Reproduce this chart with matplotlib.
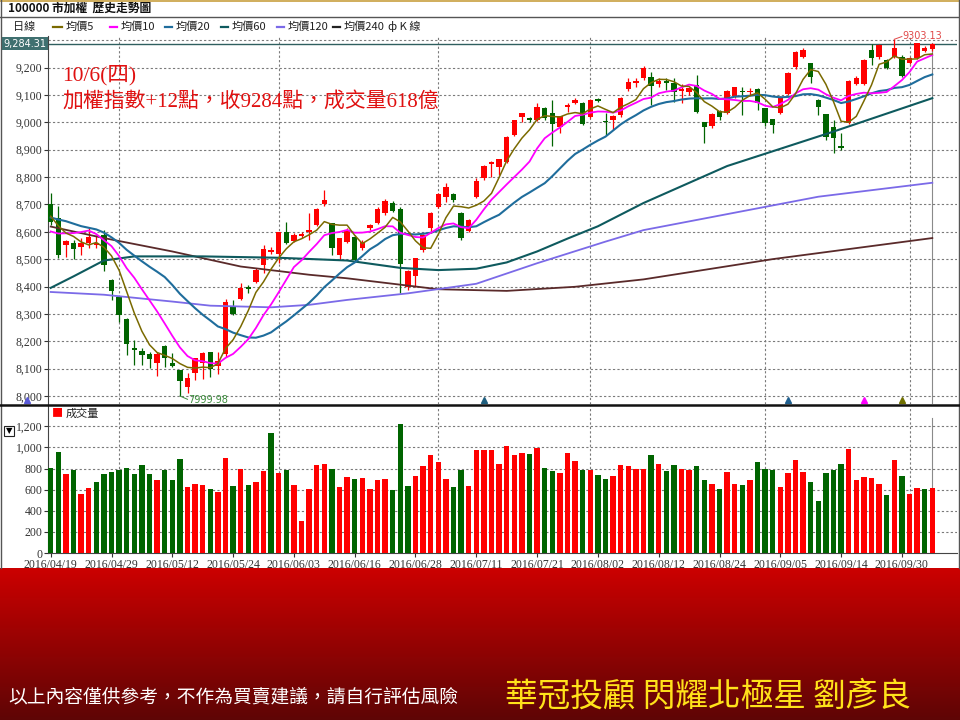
import numpy as np
import pandas as pd
import matplotlib
matplotlib.use("Agg")
import matplotlib.pyplot as plt
from matplotlib.lines import Line2D
from matplotlib.patches import Rectangle

plt.rcParams['font.family'] = ['Noto Sans CJK TC', 'DejaVu Sans']
NUM_FONT = ['Liberation Serif', 'Noto Sans CJK TC']

W, H = 960, 720

# TAIEX daily bars 2016/04/19 - 2016/10/06
opens = [8701, 8652, 8550, 8559, 8543, 8559, 8552, 8589, 8424, 8361,
         8280, 8177, 8166, 8154, 8122, 8183, 8122, 8095, 8034, 8083,
         8120, 8160, 8110, 8152, 8329, 8355, 8398, 8418, 8479, 8526,
         8520, 8599, 8565, 8585, 8598, 8623, 8702, 8632, 8516, 8564,
         8582, 8539, 8613, 8631, 8667, 8706, 8682, 8399, 8438, 8533,
         8613, 8692, 8728, 8737, 8670, 8604, 8728, 8795, 8848, 8838,
         8856, 8953, 9020, 9014, 9008, 9051, 9033, 8984, 9057, 9069,
         9071, 9019, 9085, 9004, 9008, 9027, 9120, 9145, 9160, 9164,
         9139, 9150, 9145, 9115, 9110, 9136, 9002, 8986, 9042, 9033,
         9096, 9114, 9110, 9120, 9051, 9012, 9033, 9103, 9201, 9240,
         9215, 9081, 9030, 8981, 8913, 8999, 9140, 9140, 9264, 9237,
         9227, 9240, 9240, 9218, 9234, 9262, 9266]
highs = [8741, 8693, 8571, 8571, 8577, 8619, 8589, 8607, 8427, 8365,
         8285, 8205, 8174, 8162, 8162, 8187, 8156, 8095, 8083, 8140,
         8162, 8162, 8162, 8355, 8349, 8412, 8406, 8466, 8552, 8545,
         8599, 8634, 8595, 8600, 8668, 8687, 8754, 8632, 8577, 8612,
         8588, 8570, 8630, 8690, 8720, 8712, 8692, 8460, 8505, 8590,
         8673, 8740, 8777, 8740, 8673, 8645, 8795, 8845, 8860, 8866,
         8950, 9010, 9033, 9020, 9069, 9055, 9081, 9023, 9069, 9087,
         9075, 9085, 9088, 9033, 9026, 9092, 9160, 9160, 9205, 9182,
         9160, 9163, 9160, 9140, 9130, 9173, 9002, 9035, 9045, 9118,
         9130, 9130, 9125, 9124, 9051, 9012, 9095, 9185, 9260, 9270,
         9216, 9085, 9030, 9008, 8960, 9155, 9170, 9230, 9286, 9285,
         9230, 9303.13, 9245, 9240, 9290, 9278, 9290]
lows = [8626, 8504, 8507, 8500, 8516, 8540, 8540, 8455, 8351, 8272,
        8150, 8113, 8113, 8101, 8073, 8107, 8105, 7999.98, 8010, 8059,
        8061, 8071, 8079, 8144, 8295, 8351, 8376, 8412, 8449, 8520,
        8485, 8556, 8561, 8578, 8571, 8620, 8693, 8516, 8498, 8558,
        8491, 8533, 8608, 8628, 8660, 8672, 8376, 8387, 8399, 8525,
        8597, 8688, 8710, 8710, 8570, 8598, 8725, 8790, 8801, 8808,
        8850, 8950, 9002, 9000, 9006, 9010, 8913, 8960, 9039, 9065,
        8990, 9015, 9075, 8953, 8972, 9020, 9115, 9130, 9155, 9062,
        9130, 9117, 9073, 9072, 9100, 9035, 8925, 8980, 9010, 9030,
        9090, 9027, 9100, 9045, 8986, 8960, 9030, 9100, 9195, 9235,
        9142, 9027, 8935, 8887, 8899, 8995, 9135, 9135, 9209, 9230,
        9195, 9235, 9166, 9212, 9230, 9258, 9262]
closes = [8634, 8516, 8567, 8538, 8559, 8580, 8560, 8479, 8382, 8296,
          8189, 8168, 8148, 8135, 8154, 8138, 8110, 8055, 8067, 8140,
          8156, 8099, 8129, 8345, 8299, 8396, 8392, 8461, 8537, 8533,
          8599, 8559, 8589, 8592, 8606, 8683, 8715, 8540, 8577, 8606,
          8497, 8564, 8625, 8682, 8714, 8677, 8482, 8458, 8503, 8588,
          8667, 8737, 8762, 8716, 8576, 8643, 8787, 8840, 8856, 8866,
          8947, 9008, 9033, 9008, 9057, 9014, 8994, 9023, 9063, 9083,
          8992, 9083, 9077, 9000, 9024, 9090, 9148, 9152, 9200, 9132,
          9152, 9145, 9112, 9120, 9125, 9039, 8981, 9030, 9018, 9115,
          9128, 9110, 9115, 9069, 8999, 8990, 9091, 9181, 9258, 9264,
          9167, 9057, 8947, 8941, 8905, 9152, 9163, 9227, 9234, 9282,
          9197, 9270, 9169, 9234, 9288, 9272, 9284.31]
# turnover, 億元
volumes = [808, 957, 752, 790, 562, 613, 673, 752, 767, 790,
           808, 745, 830, 752, 695, 790, 688, 894, 625, 657,
           647, 603, 578, 903, 635, 799, 641, 673, 774, 1140,
           761, 783, 641, 303, 610, 830, 846, 799, 625, 720,
           698, 714, 603, 692, 704, 600, 1219, 632, 726, 821,
           925, 862, 698, 625, 790, 632, 979, 973, 979, 840,
           1014, 932, 951, 941, 995, 808, 774, 761, 947, 875,
           790, 783, 736, 698, 726, 830, 821, 799, 799, 925,
           846, 774, 830, 799, 783, 824, 688, 657, 610, 767,
           651, 647, 695, 862, 799, 790, 625, 758, 878, 767,
           673, 489, 761, 783, 846, 982, 688, 717, 707, 651,
           546, 884, 729, 556, 613, 603, 618]
# closes of the 19 sessions before 04/19 (start of the short averages)
pre_closes = [8660, 8690, 8720, 8740, 8700, 8680, 8710, 8730, 8700, 8700,
              8590, 8560, 8530, 8520, 8526, 8690, 8700, 8600, 8660]

# long averages, read at selected sessions
ma60_idx = [0, 3, 7, 11, 20, 30, 39, 46, 51, 56, 60, 64, 68, 72, 78, 89, 103, 116]
ma60_val = [8395, 8437, 8495, 8510, 8510, 8505, 8495, 8468, 8460, 8465,
            8488, 8528, 8575, 8620, 8705, 8840, 8966, 9088]
ma120_idx = [0, 7, 16, 21, 29, 34, 39, 47, 56, 64, 73, 78, 101, 116]
ma120_val = [8380, 8370, 8345, 8330, 8324, 8333, 8351, 8375, 8410, 8485,
             8564, 8606, 8728, 8779]
ma240_idx = [0, 7, 16, 25, 34, 39, 51, 60, 69, 78, 95, 116]
ma240_val = [8619, 8577, 8528, 8473, 8443, 8430, 8390, 8384, 8399, 8426,
             8500, 8577]

date_labels = ['2016/04/19', '2016/04/29', '2016/05/12', '2016/05/24',
               '2016/06/03', '2016/06/16', '2016/06/28', '2016/07/11',
               '2016/07/21', '2016/08/02', '2016/08/12', '2016/08/24',
               '2016/09/05', '2016/09/14', '2016/09/30']
month_start = [9, 30, 51, 71, 94, 113]

RED = '#ff0000'
GREEN = '#006400'
C_MA5 = '#7a6a00'
C_MA10 = '#ff00ff'
C_MA20 = '#1f6d9c'
C_MA60 = '#0e5a5e'
C_MA120 = '#7b6ae8'
C_MA240 = '#5a2a2a'
GRID = dict(color='#7a7a7a', linestyle=(0, (2, 2)), linewidth=0.8)

fig = plt.figure(figsize=(9.6, 7.2), dpi=100, facecolor='white')


def box(x0, y0, x1, y1):
    return [x0 / W, 1 - y1 / H, (x1 - x0) / W, (y1 - y0) / H]


def fline(xs, ys, **kw):
    fig.add_artist(Line2D([v / W for v in xs], [1 - v / H for v in ys],
                          transform=fig.transFigure, **kw))


def ftext(x, y, s, **kw):
    return fig.text(x / W, 1 - y / H, s, **kw)


# dark red footer band
bg = fig.add_axes(box(0, 568, 960, 720))
t = np.linspace(0, 1, 200)[:, None, None]
top = np.array([0.80, 0.0, 0.0])
bot = np.array([0.37, 0.02, 0.02])
bg.imshow(top * (1 - t) + bot * t, aspect='auto', extent=[0, 1, 0, 1])
bg.axis('off')
ftext(8, 697, '以上內容僅供參考，不作為買賣建議，請自行評估風險',
      color='white', fontsize=13.5, va='center')
ftext(505, 697, '華冠投顧 閃耀北極星 劉彥良', color='#ffe21a',
      fontsize=23.5, va='center')

o = np.array(opens, float)
hi = np.array(highs, float)
lo = np.array(lows, float)
c = np.array(closes, float)
v = np.array(volumes, float)
x = np.arange(len(c))

allc = pd.Series(pre_closes + closes, dtype=float)
ma5 = allc.rolling(5).mean().values[len(pre_closes):]
ma10 = allc.rolling(10).mean().values[len(pre_closes):]
ma20 = allc.rolling(20).mean().values[len(pre_closes):]

XL = (-(50.7 - 48) / 7.6, (957 - 50.7) / 7.6)

# ---- price panel ----
ax = fig.add_axes(box(48, 36, 957, 404))
ax.set_xlim(*XL)
ax.set_ylim(7970.8, 9315.1)
cand_col = np.where(c >= o, RED, GREEN)
ax.vlines(x, lo, hi, colors=cand_col, lw=0.9, zorder=3)
ax.bar(x, np.maximum(np.abs(c - o), 2.5), bottom=np.minimum(o, c),
       width=0.72, color=cand_col, linewidth=0, zorder=4)

ax.plot(ma240_idx, ma240_val, color=C_MA240, lw=1.3, zorder=5)
ax.plot(ma120_idx, ma120_val, color=C_MA120, lw=1.3, zorder=5)
ax.plot(ma60_idx, ma60_val, color=C_MA60, lw=1.5, zorder=5)
ax.plot(x, ma20, color=C_MA20, lw=1.5, zorder=5)
ax.plot(x, ma10, color=C_MA10, lw=1.3, zorder=5)
ax.plot(x, ma5, color=C_MA5, lw=1.1, zorder=6)

yt = list(range(8000, 9301, 100))
ax.set_yticks(yt)
# the 9,300 label sits under the close tag, so it is left blank
ax.set_yticklabels([f'{t:,}' if t < 9300 else '' for t in yt],
                   fontfamily=NUM_FONT)
ax.tick_params(axis='y', direction='out', length=3, labelsize=8.5,
               colors='#333333', pad=1)
ax.set_xticks([])
ax.grid(axis='y', **GRID)
for m in month_start:
    ax.axvline(m, **GRID)
for s in ['top', 'right', 'bottom']:
    ax.spines[s].set_visible(False)
ax.spines['left'].set_color('#444444')

last = c[-1]
ax.axhline(last, color='#2f5f5f', lw=1.0, zorder=2)
ax.axvline(x[-1], color='#8a8a8a', lw=0.8, ymin=0, ymax=0.98, zorder=2)

# extreme labels
i_lo = int(np.argmin(lo))
i_hi = int(np.argmax(hi))
ax.plot([i_lo, i_lo + 1.0], [lo[i_lo], lo[i_lo] - 12], color='#3c8c3c',
        lw=0.7, clip_on=False, zorder=7)
ax.text(i_lo + 1.05, lo[i_lo] - 13, f'{lo[i_lo]:.2f}', color='#3c8c3c',
        fontsize=7, va='center', ha='left', fontfamily='DejaVu Sans', zorder=7)
ax.plot([i_hi, i_hi + 1.0], [hi[i_hi], hi[i_hi] + 10], color='#e04848',
        lw=0.7, clip_on=False, zorder=7)
ax.text(i_hi + 1.05, hi[i_hi] + 11, f'{hi[i_hi]:.2f}', color='#e04848',
        fontsize=7, va='center', ha='left', fontfamily='DejaVu Sans',
        clip_on=False, zorder=7)

# signal markers along the bottom
for xi, col in [(-3.1, '#5a5ad8'), (57, '#1f5f7f'), (97, '#1f5f8f'),
                (107, '#ff00ff'), (112, '#707000')]:
    ax.plot(xi, 7984, marker='^', color=col, markersize=5, clip_on=False,
            zorder=7)

ax.text(1.5, 9170, '10/6(四)', color='#e01010', fontsize=15.5,
        fontfamily=NUM_FONT, va='center', zorder=8)
ax.text(1.5, 9075, '加權指數+12點，收9284點，成交量618億', color='#e01010',
        fontsize=15, fontfamily=NUM_FONT, va='center', zorder=8)

# current close tag on the axis
ftext(25, 43.5, f'{last:,.2f}', color='white', fontsize=7, ha='center',
      va='center', fontfamily='DejaVu Sans',
      bbox=dict(boxstyle='square,pad=0.15', fc='#3f7070', ec='none'),
      zorder=10)

# ---- volume panel ----
axv = fig.add_axes(box(48, 406, 957, 553))
axv.set_xlim(*XL)
axv.set_ylim(0, 1392)
prev = np.array([pre_closes[-1]] + closes[:-1], float)
vol_col = np.where(c >= prev, RED, GREEN)
axv.bar(x, v, width=0.72, color=vol_col, linewidth=0, zorder=3)
vt = list(range(0, 1201, 200))
axv.set_yticks(vt)
axv.set_yticklabels([f'{t:,}' for t in vt], fontfamily=NUM_FONT)
axv.tick_params(axis='y', direction='out', length=3, labelsize=8.5,
                colors='#333333', pad=1)
axv.set_xticks(range(0, len(c), 8))
axv.set_xticklabels(date_labels, fontfamily=NUM_FONT)
axv.tick_params(axis='x', direction='out', length=3, labelsize=8.5,
                colors='#333333', pad=1)
for t in vt[1:]:
    axv.axhline(t, **GRID)
for m in month_start:
    axv.axvline(m, **GRID)
axv.axvline(x[-1], color='#8a8a8a', lw=0.8, ymax=0.92, zorder=2)
for s in ['top', 'right']:
    axv.spines[s].set_visible(False)
axv.spines['left'].set_color('#444444')
axv.spines['bottom'].set_color('#444444')

ftext(57, 413.5, '■', color=RED, fontsize=8, ha='center', va='center')
ftext(66, 413.5, '成交量', color='#222222', fontsize=8, va='center')
fig.add_artist(Rectangle((4 / W, 1 - 436 / H), 10 / W, 10 / H,
                         transform=fig.transFigure, fc='white',
                         ec='#222222', lw=0.8))
ftext(9, 431, '▼', color='black', fontsize=6, ha='center', va='center',
      fontfamily='DejaVu Sans')

# ---- header ----
ftext(8, 8.5, '100000 市加權  歷史走勢圖', fontsize=8.5, fontweight='bold',
      va='center', color='#111111')
ftext(13, 26.5, '日線', fontsize=8, va='center', color='#222222')
legend_items = [(53, 62, 66, C_MA5, '均價5'), (110, 117, 121, C_MA10, '均價10'),
                (165, 172, 176, C_MA20, '均價20'), (221, 228, 232, C_MA60, '均價60'),
                (277, 284, 288, C_MA120, '均價120'), (333, 340, 344, '#222222', '均價240')]
for x0, x1, tx, col, lab in legend_items:
    fline([x0, x1], [26.5, 26.5], color=col, lw=1.6)
    ftext(tx, 26.5, lab, fontsize=8, va='center', color='#222222')
ftext(388, 26.5, 'ф K 線', fontsize=8, va='center', color='#222222')

# frame lines
fline([0, 960], [0.5, 0.5], color='#c8a040', lw=1.2)
fline([0, 960], [17, 17], color='#555555', lw=1.0)
fline([0.6, 0.6], [0, 568], color='#555555', lw=1.0)
fline([958.5, 958.5], [0, 568], color='#555555', lw=1.0)
fline([0, 960], [405, 405], color='#111111', lw=1.8)

fig.savefig('out.png', dpi=100, facecolor='white')
